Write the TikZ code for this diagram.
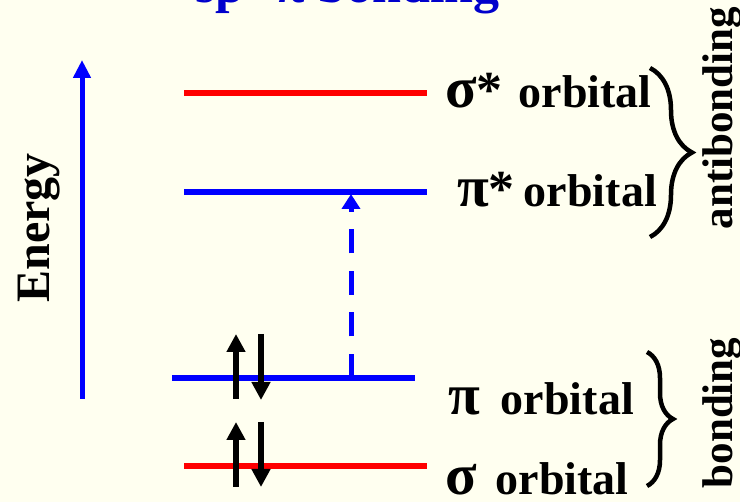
\documentclass[tikz,border=0pt]{standalone}
\usepackage{fontspec}
\setmainfont{Liberation Serif}
\usepackage{xcolor}
\usetikzlibrary{arrows.meta, decorations.pathreplacing}
\definecolor{paper}{RGB}{255,255,240}
\definecolor{titleblue}{RGB}{0,0,204}

\begin{document}
\begin{tikzpicture}[x=1pt, y=-1pt,
    orblevel/.style={line width=5.5pt},
    electron/.style={-{Triangle[length=18pt, width=18pt]}, line width=5.5pt, black},
    orblabel/.style={anchor=base west, inner sep=0pt, font=\bfseries},
    sidelab/.style={anchor=base, inner sep=0pt, rotate=90, font=\bfseries\fontsize{43}{43}\selectfont},
    curly/.style={decorate, decoration={brace, amplitude=#1}, line width=4.5pt}
]

% background and frame
\fill[paper] (0,0) rectangle (740,502);
\useasboundingbox (0,0) rectangle (740,502);

% title (cut at the top)
\node[anchor=base west, inner sep=0pt, text=titleblue, font=\bfseries\fontsize{52}{52}\selectfont] (title) at (195,3) {sp\textsuperscript{2} π bonding};

% energy axis
\coordinate (eLow) at (82,399);
\coordinate (eHigh) at (82,60);
\draw[-{Triangle[length=18pt, width=17pt]}, blue, line width=5pt] (eLow) -- (eHigh);
\node[sidelab, font=\bfseries\fontsize{48}{48}\selectfont] (energy) at (49,228) {Energy};

% orbital levels
\coordinate (sgsL) at (184,93);  \coordinate (sgsR) at (427,93);
\coordinate (pisL) at (184,192); \coordinate (pisR) at (427,192);
\coordinate (piL) at (172,378);  \coordinate (piR) at (415,378);
\coordinate (sgL) at (184,466);  \coordinate (sgR) at (427,466);

\draw[orblevel, red] (sgsL) -- (sgsR);
\draw[orblevel, blue] (pisL) -- (pisR);
\draw[orblevel, blue] (piL) -- (piR);
\draw[orblevel, red] (sgL) -- (sgR);

% labels
\node[orblabel] (sgsLab) at (445,108) {\fontsize{58}{58}\selectfont σ\fontsize{52}{52}\selectfont*\fontsize{46}{46}\selectfont\hspace{16pt}orbital};
\node[orblabel] (pisLab) at (457,207) {\fontsize{58}{58}\selectfont π\fontsize{52}{52}\selectfont*\fontsize{46}{46}\selectfont\hspace{9pt}orbital};
\node[orblabel] (piLab) at (448,415) {\fontsize{58}{58}\selectfont π\fontsize{46}{46}\selectfont\hspace{21pt}orbital};
\node[orblabel] (sgLab) at (445,495) {\fontsize{58}{58}\selectfont σ\fontsize{46}{46}\selectfont\hspace{19pt}orbital};

% electrons
\coordinate (piUpA) at (236,399); \coordinate (piUpB) at (236,334);
\coordinate (piDnA) at (261,334); \coordinate (piDnB) at (261,400);
\coordinate (sgUpA) at (236,487); \coordinate (sgUpB) at (236,422);
\coordinate (sgDnA) at (261,422); \coordinate (sgDnB) at (261,487);
\draw[electron] (piUpA) -- (piUpB);
\draw[electron] (piDnA) -- (piDnB);
\draw[electron] (sgUpA) -- (sgUpB);
\draw[electron] (sgDnA) -- (sgDnB);

% excitation pi -> pi*
\coordinate (exFrom) at (351,378);
\coordinate (exTo) at (351,194);
\draw[blue, line width=5pt, dash pattern=on 24pt off 17.5pt, -{Triangle[length=15pt, width=18pt]}] (exFrom) -- (exTo);

% braces
\coordinate (abTop) at (650,68);  \coordinate (abBot) at (650,237);
\coordinate (bTop) at (647,352);  \coordinate (bBot) at (647,486);
\draw[curly=42pt] (abTop) -- (abBot);
\draw[curly=26pt] (bTop) -- (bBot);

\node[sidelab] (anti) at (732,118) {antibonding};
\node[sidelab] (bond) at (732,413) {bonding};

\end{tikzpicture}
\end{document}
